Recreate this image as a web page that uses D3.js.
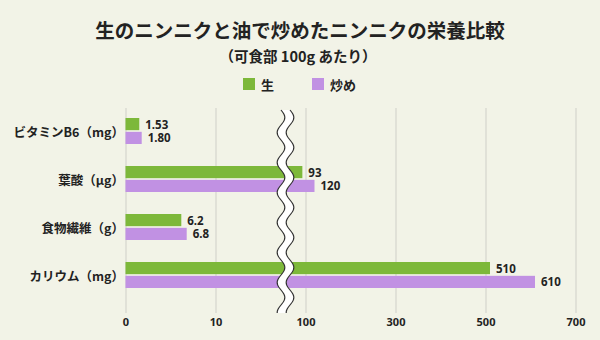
<!DOCTYPE html>
<html><head><meta charset="utf-8">
<script src="https://cdn.jsdelivr.net/npm/d3@7/dist/d3.min.js"></script>
<style>
html,body{margin:0;padding:0;background:#f2f3e7;}
svg{display:block;}
text{font-family:"Noto Sans CJK JP","Noto Sans",sans-serif;fill:#222;}
</style></head>
<body>
<script>
const categories = ["ビタミンB6（mg）", "葉酸（μg）", "食物繊維（g）", "カリウム（mg）"];
const seriesNames = ["生", "炒め"];
const rawValues = [1.53, 93, 6.2, 510];
const friedValues = [1.80, 120, 6.8, 610];
const rawLabels = ["1.53", "93", "6.2", "510"];
const friedLabels = ["1.80", "120", "6.8", "610"];
const lowTicks = [0, 10];
const highTicks = [100, 300, 500, 700];
const colors = ["#7db83a", "#c191e3"];

const W = 600, H = 340;
const svg = d3.select("body").append("svg").attr("width", W).attr("height", H);
svg.append("rect").attr("width", W).attr("height", H).attr("fill", "#f2f3e7");

// Title
svg.append("text").attr("x", 300).attr("y", 29).attr("text-anchor", "middle")
  .attr("dominant-baseline", "central").attr("font-size", 19.5).attr("font-weight", 700)
  .text("生のニンニクと油で炒めたニンニクの栄養比較");
svg.append("text").attr("x", 298).attr("y", 55).attr("text-anchor", "middle")
  .attr("dominant-baseline", "central").attr("font-size", 14.5).attr("font-weight", 700)
  .text("（可食部 100g あたり）");

// Legend
const legendX = [243, 312];
seriesNames.forEach((s, i) => {
  const g = svg.append("g").attr("transform", `translate(${legendX[i]},78)`);
  g.append("rect").attr("width", 12).attr("height", 12).attr("fill", colors[i]);
  g.append("text").attr("x", 18).attr("y", 6).attr("dominant-baseline", "central")
    .attr("font-size", 13).attr("font-weight", 700).text(s);
});

// Scales
const xLow = d3.scaleLinear().domain([0, 10]).range([125.5, 215.5]);
const xHigh = d3.scaleLinear().domain([100, 700]).range([305.5, 575.5]);
const x = v => v < 50 ? xLow(v) : xHigh(v);
const gridTop = 108, gridBottom = 313;
const y = d3.scaleBand().domain(categories).range([107, 299]);
const yInner = d3.scaleBand().domain(seriesNames).range([-13, 13]).paddingInner(0.12);

// Axes / grid
[[xLow, lowTicks], [xHigh, highTicks]].forEach(([sc, tv]) => {
  const ax = svg.append("g").attr("transform", `translate(0,${gridBottom})`)
    .call(d3.axisBottom(sc).tickValues(tv).tickSize(-(gridBottom - gridTop)).tickPadding(5).tickFormat(d3.format("d")));
  ax.select(".domain").remove();
  ax.selectAll(".tick line").attr("stroke", "#cfcfc8").attr("stroke-width", 1);
  ax.selectAll(".tick text").attr("font-size", 11).attr("font-weight", 700)
    .attr("fill", "#222").style("font-family", '"Noto Sans","DejaVu Sans",sans-serif');
});

// Category labels
svg.append("g").selectAll("text").data(categories).join("text")
  .attr("x", 124).attr("y", d => y(d) + y.bandwidth() / 2)
  .attr("text-anchor", "end").attr("dominant-baseline", "central")
  .attr("font-size", 12.5).attr("font-weight", 700).text(d => d);

// Bars
const series = [rawValues, friedValues];
const labels = [rawLabels, friedLabels];
series.forEach((vals, si) => {
  const g = svg.append("g");
  g.selectAll("rect").data(vals).join("rect")
    .attr("x", x(0))
    .attr("y", (d, i) => y(categories[i]) + y.bandwidth() / 2 + yInner(seriesNames[si]))
    .attr("width", d => x(d) - x(0))
    .attr("height", yInner.bandwidth())
    .attr("fill", colors[si]);
  g.selectAll("text").data(vals).join("text")
    .attr("x", d => x(d) + 6)
    .attr("y", (d, i) => y(categories[i]) + y.bandwidth() / 2 + yInner(seriesNames[si]) + yInner.bandwidth() / 2)
    .attr("dominant-baseline", "central")
    .attr("font-size", 11.5).attr("font-weight", 700)
    .style("font-family", '"Noto Sans","DejaVu Sans",sans-serif')
    .text((d, i) => labels[si][i]);
});

// Axis break (decoration)
const breakTop = 110, breakBottom = 313, period = 30, amp = 3.8;
const leftC = 281, rightC = 290;
const ys = d3.range(breakTop, breakBottom + 0.1, 1);
const waveX = (c, yy) => c + amp * Math.sin((yy - breakTop) / period * 2 * Math.PI);
const leftPts = ys.map(yy => [waveX(leftC, yy), yy]);
const rightPts = ys.map(yy => [waveX(rightC, yy), yy]);
const area = leftPts.concat(rightPts.slice().reverse());
svg.append("path").attr("d", "M" + area.map(p => p.join(",")).join("L") + "Z").attr("fill", "#ffffff");
const line = d3.line();
svg.append("path").attr("d", line(leftPts)).attr("fill", "none").attr("stroke", "#333").attr("stroke-width", 1.2);
svg.append("path").attr("d", line(rightPts)).attr("fill", "none").attr("stroke", "#333").attr("stroke-width", 1.2);
</script>
</body></html>
